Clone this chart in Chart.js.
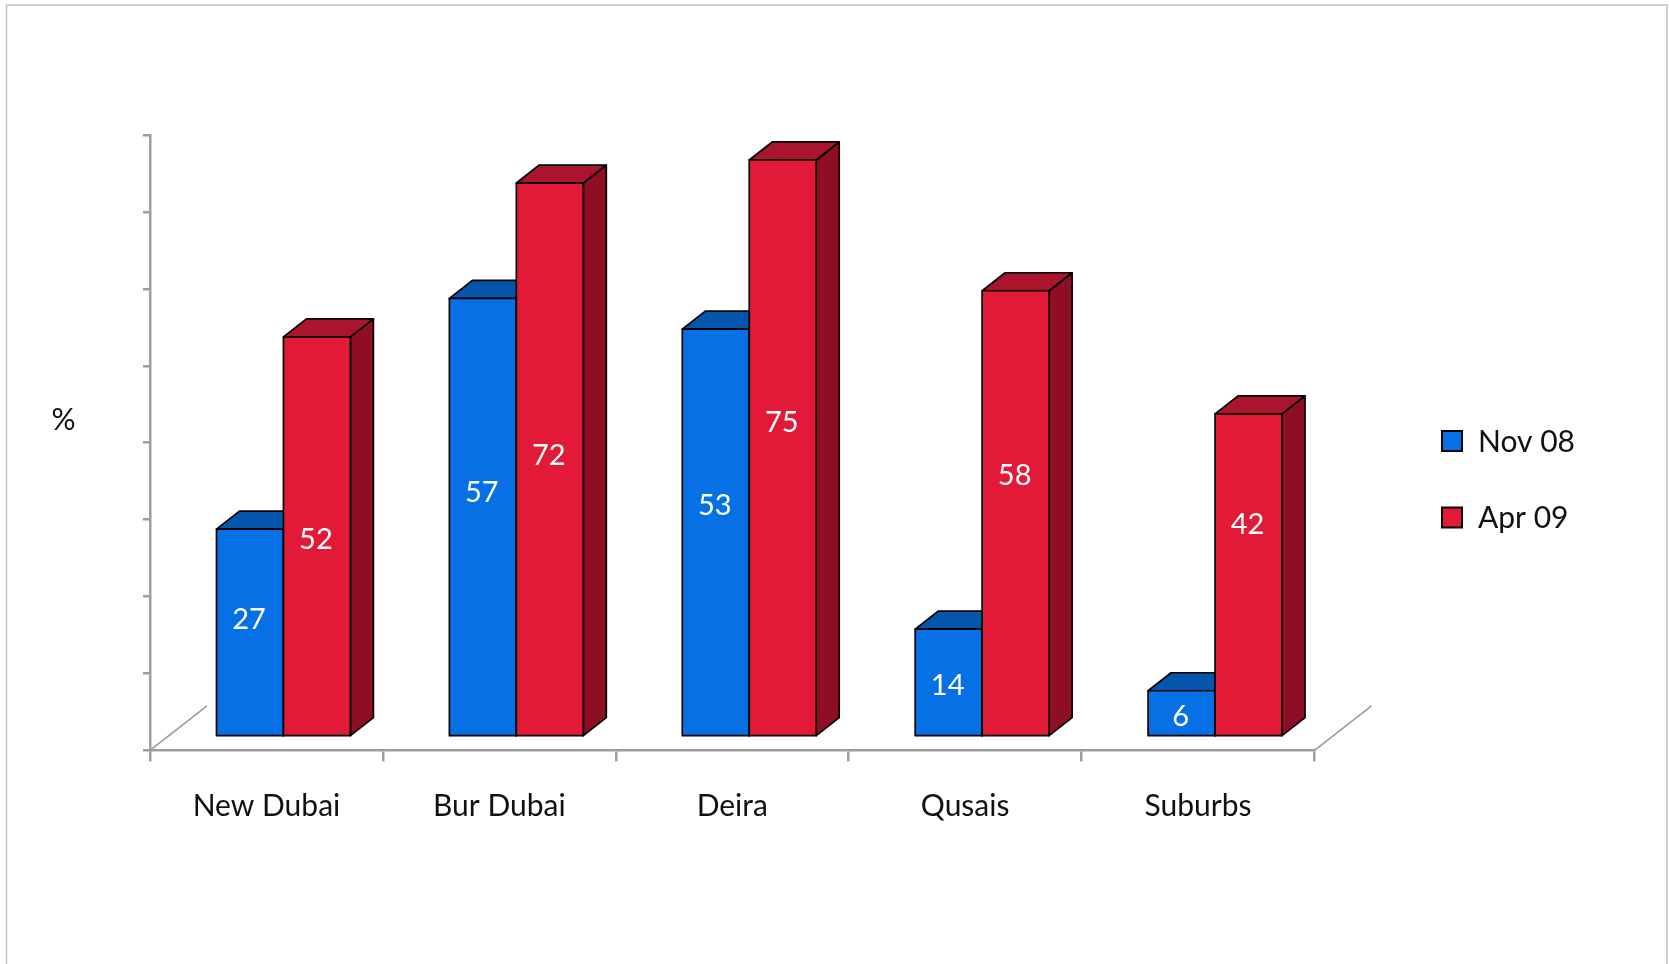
<!DOCTYPE html>
<html>
<head>
<meta charset="utf-8">
<title>Nov 08 / Apr 09</title>
<script src="https://cdn.jsdelivr.net/npm/chart.js@4.4.1/dist/chart.umd.min.js"></script>
<style>
  html, body { margin: 0; padding: 0; background: #fff; }
  #wrap { position: relative; width: 1669px; height: 964px; }
</style>
</head>
<body>
<div id="wrap"><canvas id="myChart" width="1669" height="964"></canvas></div>
<script>
var areas = ['New Dubai', 'Bur Dubai', 'Deira', 'Qusais', 'Suburbs'];
var nov08 = [27, 57, 53, 14, 6];
var apr09 = [52, 72, 75, 58, 42];
// value (in %) at which each bar's label is written
var nov08LabelAt = [15.4, 32.0, 30.2, 6.9, 2.8];
var apr09LabelAt = [25.9, 36.8, 41.0, 34.1, 27.8];
var yMax = 80;
var yStep = 10;

var AXIS = '#9d9d9d';
var FONT = 'Lato';
var FRONT = { dx: 17, dy: -13.5 };   // bars stand a bit behind the axis plane
var DEPTH = { dx: 23, dy: -18 };     // box depth
var FLOOR = { dx: 57, dy: -44.5 };   // floor edges

var shades = [
    { front: '#0670e4', top: '#0456ac', side: '#034890' },
    { front: '#e21a38', top: '#aa142d', side: '#8e0f23' }
];

function drawBox(ctx, l, r, t, b, c) {
    var dx = DEPTH.dx, dy = DEPTH.dy;
    ctx.lineWidth = 1.7;
    ctx.strokeStyle = '#000';
    ctx.lineJoin = 'round';
    // side
    ctx.beginPath();
    ctx.moveTo(r, b); ctx.lineTo(r + dx, b + dy); ctx.lineTo(r + dx, t + dy); ctx.lineTo(r, t);
    ctx.closePath();
    ctx.fillStyle = c.side; ctx.fill(); ctx.stroke();
    // top
    ctx.beginPath();
    ctx.moveTo(l, t); ctx.lineTo(l + dx, t + dy); ctx.lineTo(r + dx, t + dy); ctx.lineTo(r, t);
    ctx.closePath();
    ctx.fillStyle = c.top; ctx.fill(); ctx.stroke();
    // front
    ctx.beginPath();
    ctx.rect(l, t, r - l, b - t);
    ctx.fillStyle = c.front; ctx.fill(); ctx.stroke();
}

var box3d = {
    id: 'box3d',
    beforeDraw: function(chart) {
        var ctx = chart.ctx;
        ctx.save();
        ctx.strokeStyle = '#c0c0c0';
        ctx.lineWidth = 1.5;
        ctx.beginPath();
        ctx.moveTo(6.5, chart.height); ctx.lineTo(6.5, 5); ctx.lineTo(1667, 5); ctx.lineTo(1667, chart.height);
        ctx.stroke();
        ctx.restore();
    },
    beforeDatasetsDraw: function(chart) {
        var ctx = chart.ctx, a = chart.chartArea;
        ctx.save();
        ctx.strokeStyle = AXIS;
        ctx.lineWidth = 1.8;
        ctx.beginPath();
        ctx.moveTo(a.left, a.bottom); ctx.lineTo(a.left + FLOOR.dx, a.bottom + FLOOR.dy);
        ctx.moveTo(a.right, a.bottom); ctx.lineTo(a.right + FLOOR.dx, a.bottom + FLOOR.dy);
        ctx.stroke();
        ctx.restore();
        ctx.save();
        ctx.translate(FRONT.dx, FRONT.dy);
    },
    afterDatasetsDraw: function(chart) {
        var ctx = chart.ctx;
        ctx.restore();
        ctx.save();
        var n = chart.data.labels.length;
        for (var i = 0; i < n; i++) {
            chart.data.datasets.forEach(function(ds, d) {
                var bar = chart.getDatasetMeta(d).data[i];
                var p = bar.getProps(['x', 'y', 'base', 'width'], true);
                var l = p.x - p.width / 2 + FRONT.dx, r = p.x + p.width / 2 + FRONT.dx;
                drawBox(ctx, l, r, p.y + FRONT.dy, p.base + FRONT.dy, shades[d]);
            });
        }
        var yScale = chart.scales.y;
        ctx.fillStyle = '#fff';
        ctx.font = '29px ' + FONT;
        ctx.textAlign = 'center';
        ctx.textBaseline = 'middle';
        chart.data.datasets.forEach(function(ds, d) {
            chart.getDatasetMeta(d).data.forEach(function(bar, i) {
                var y = yScale.getPixelForValue(ds.labelAt[i]) + FRONT.dy + 1.5;
                ctx.fillText(String(ds.data[i]), bar.x + FRONT.dx - 1, y);
            });
        });
        ctx.restore();
    },
    afterDraw: function(chart) {
        var ctx = chart.ctx;
        ctx.save();
        ctx.font = '30px ' + FONT;
        ctx.textBaseline = 'middle';
        ctx.fillStyle = '#111';
        ctx.textAlign = 'center';
        ctx.fillText('%', 63.5, 420);
        ctx.textAlign = 'left';
        chart.data.datasets.forEach(function(ds, d) {
            var cy = 441 + d * 76.5;
            ctx.fillStyle = shades[d].front;
            ctx.fillRect(1442, cy - 10, 20, 20);
            ctx.strokeStyle = '#000';
            ctx.lineWidth = 2;
            ctx.strokeRect(1442, cy - 10, 20, 20);
            ctx.fillStyle = '#111';
            ctx.fillText(ds.label, 1478, cy + 1);
        });
        ctx.restore();
    }
};

document.addEventListener('DOMContentLoaded', function() {
    var ctx = document.getElementById('myChart').getContext('2d');
    var myChart = new Chart(ctx, {
        type: 'bar',
        data: {
            labels: areas,
            datasets: [{
                label: 'Nov 08',
                data: nov08,
                labelAt: nov08LabelAt,
                backgroundColor: shades[0].front,
                borderColor: '#000',
                borderWidth: 1.7
            }, {
                label: 'Apr 09',
                data: apr09,
                labelAt: apr09LabelAt,
                backgroundColor: shades[1].front,
                borderColor: '#000',
                borderWidth: 1.7
            }]
        },
        options: {
            responsive: false,
            animation: false,
            devicePixelRatio: 1,
            categoryPercentage: 0.575,
            barPercentage: 1,
            layout: { padding: { top: 135, right: 354.5, bottom: 0, left: 0 } },
            plugins: {
                legend: { display: false },
                tooltip: { enabled: false }
            },
            scales: {
                x: {
                    grid: { offset: true, drawOnChartArea: false, tickLength: 11, color: AXIS, lineWidth: 2.5 },
                    border: { color: AXIS, width: 2.5 },
                    ticks: { color: '#111', font: { family: FONT, size: 30 }, padding: 27, maxRotation: 0 },
                    afterFit: function(s) { s.height = 964 - 750.4; }
                },
                y: {
                    min: 0,
                    max: yMax,
                    ticks: { stepSize: yStep, display: false },
                    grid: { drawOnChartArea: false, tickLength: 7, color: AXIS, lineWidth: 2.5 },
                    border: { color: AXIS, width: 2.5 },
                    afterFit: function(s) { s.width = 150; }
                }
            }
        },
        plugins: [box3d]
    });
});
</script>
</body>
</html>
